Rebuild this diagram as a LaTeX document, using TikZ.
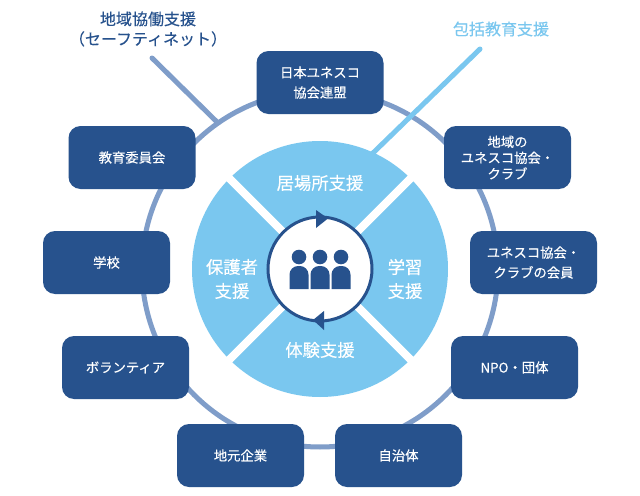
\documentclass[tikz,border=0pt]{standalone}
\usepackage{fontspec}
\usepackage{tikz}
\setmainfont[FakeBold=0.25,AutoFakeBold=false,RawFeature={embolden=0.25}]{Noto Sans CJK JP}
\usetikzlibrary{positioning,shapes}
\definecolor{navy}{HTML}{27528D}
\definecolor{sky}{HTML}{7AC7EF}
\definecolor{steel}{HTML}{7F9DC9}
\tikzset{
  member/.style={draw=none,fill=navy,text=white,rounded corners=9pt,align=center,
    minimum width=95.25pt,minimum height=47.25pt,inner sep=0pt,
    font=\fontsize{10}{15}\selectfont},
  pillar/.style={text=white,align=center,inner sep=0pt,
    font=\fontsize{13}{18}\selectfont},
  heading/.style={align=center,inner sep=0pt,font=\fontsize{12}{15}\selectfont},
  gapline/.style={draw=white,line width=6pt,shorten <=-3pt,shorten >=-1pt},
  netline/.style={draw=steel,line width=3.75pt,line cap=round},
  eduline/.style={draw=sky,line width=3.75pt,line cap=round}
}

\begin{document}
\begin{tikzpicture}[x=0.75pt,y=-0.75pt]
  \useasboundingbox (0,0) rectangle (640,496);
  \fill[white] (0,0) rectangle (640,496);

  % Outer ring
  \node[circle,draw=steel,line width=3.75pt,minimum size=267pt,inner sep=0pt] (ring) at (320,269) {};

  % Disk and hub
  \node[circle,fill=sky,minimum size=192pt,inner sep=0pt,outer sep=0pt] (disk) at (320,269) {};
  \node[circle,fill=white,minimum size=78pt,inner sep=0pt,outer sep=0pt] (hub) at (320,269) {};
  \foreach \a in {45,135,225,315} {
    \draw[gapline] (disk.\a) -- (hub.\a);
  }
  \node[circle,draw=navy,line width=2.25pt,fill=white,minimum size=78pt,inner sep=0pt] (hubline) at (320,269) {};

  % Turning arrows
  \fill[navy] (316,210) -- (328,218.5) -- (316,228) -- cycle;
  \fill[navy] (324,311) -- (313,320) -- (324,330) -- cycle;

  % People
  \foreach \x in {299,320,341} {
    \fill[navy] (\x,257) circle[radius=7.3];
    \fill[navy] (\x-9.5,289) [rounded corners=6.5pt] -- (\x-9.5,266) -- (\x+9.5,266) [sharp corners] -- (\x+9.5,289) -- cycle;
  }

  % Pillars
  \node[pillar] (place) at (320,183) {居場所支援};
  \node[pillar] (study) at (405,279) {学習\\支援};
  \node[pillar] (event) at (320,350) {体験支援};
  \node[pillar] (guard) at (232,279) {保護者\\支援};

  % Members
  \node[member] (unesco) at (320,82.5) {日本ユネスコ\\協会連盟};
  \node[member,font=\fontsize{10}{12}\selectfont] (local) at (507.5,157.5) {地域の\\ユネスコ協会・\\クラブ};
  \node[member] (club) at (533.5,262.5) {ユネスコ協会・\\クラブの会員};
  \node[member] (npo) at (514.5,367.5) {NPO・団体};
  \node[member] (city) at (398.5,455.5) {自治体};
  \node[member] (firm) at (240.5,455.5) {地元企業};
  \node[member] (volunteer) at (125.5,367.5) {ボランティア};
  \node[member] (school) at (106.5,262.5) {学校};
  \node[member] (board) at (132,157.5) {教育委員会};

  % Support lines
  \coordinate (netstart) at (152,58);
  \coordinate (netend) at (217,122);
  \coordinate (edustart) at (480,49);
  \coordinate (eduend) at (373,153);
  \draw[netline] (netstart) -- (netend);
  \draw[eduline] (edustart) -- (eduend);

  % Headings
  \node[heading,text=navy] (net) at (148,29) {地域協働支援\\（セーフティネット）};
  \node[heading,text=sky] (edu) at (501,29) {包括教育支援};
\end{tikzpicture}
\end{document}
